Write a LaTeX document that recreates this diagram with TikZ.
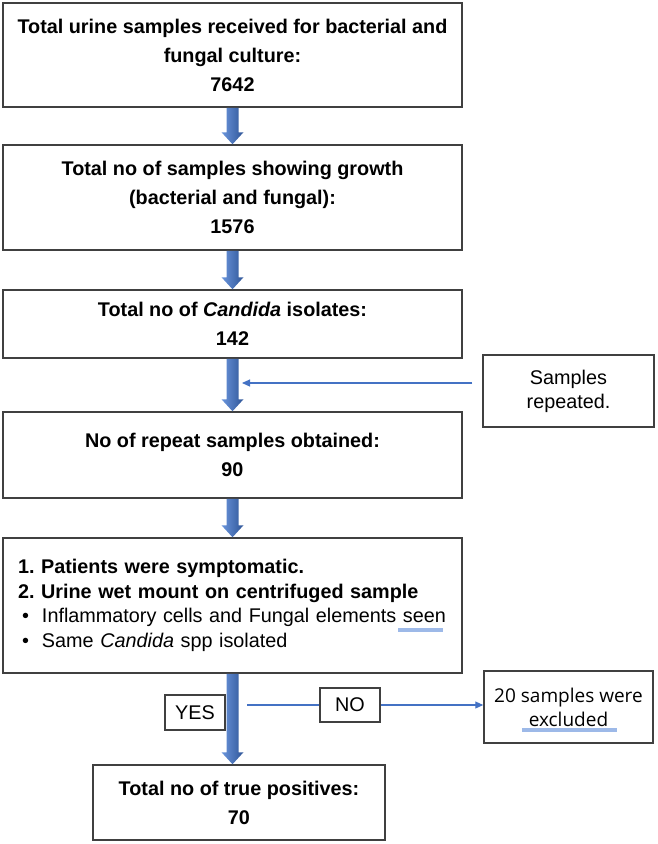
\documentclass[tikz,border=0pt]{standalone}
\usepackage{fontspec}
\setmainfont{Liberation Sans}
\newfontfamily\osans{Open Sans}
\usetikzlibrary{calc,arrows.meta}
\definecolor{edge}{HTML}{404040}
\definecolor{arrblue}{HTML}{4472C4}
\definecolor{arrdark}{HTML}{2F5597}
\definecolor{arrlight}{HTML}{6A95DC}
\definecolor{ulblue}{HTML}{9DB9E8}
\tikzset{
  box/.style={draw=edge, line width=1.5pt, fill=white, inner sep=0pt, align=center,
    font=\fontsize{19.8}{29}\selectfont\bfseries},
  plainbox/.style={draw=edge, line width=1.5pt, fill=white, inner sep=0pt, align=center,
    font=\fontsize{19.8}{24}\selectfont},
  thinline/.style={draw=arrblue, line width=1.1pt},
  thinarrow/.style={thinline, -{Triangle[length=8pt,width=7pt]}},
  uline/.style={draw=ulblue, line width=3.5pt},
}
\newcommand{\blkarrow}[2]{%
  \shade[left color=arrlight, right color=arrdark]
    ($(#1)+(-6,0)$) -- ($(#1)+(6,0)$) -- ($(#2)+(6,-12)$) -- ($(#2)+(11,-12)$)
    -- (#2) -- ($(#2)+(-11,-12)$) -- ($(#2)+(-6,-12)$) -- cycle;}
\begin{document}
\begin{tikzpicture}[x=1pt,y=-1pt]
\useasboundingbox (0,0) rectangle (658,844);
\node[box, minimum width=459pt, minimum height=104pt] (b1) at (232.5,55)
  {Total urine samples received for bacterial and\\fungal culture:\\7642};
\node[box, minimum width=459pt, minimum height=105pt] (b2) at (232.5,197.5)
  {Total no of samples showing growth\\(bacterial and fungal):\\1576};
\node[box, minimum width=459pt, minimum height=68pt] (b3) at (232.5,324)
  {Total no of \textit{Candida} isolates:\\142};
\node[box, minimum width=459pt, minimum height=86pt] (b4) at (232.5,455)
  {No of repeat samples obtained:\\90};
\node[plainbox, minimum width=459pt, minimum height=135pt, text width=429pt, align=left,
  font=\fontsize{19.8}{24.5}\selectfont\frenchspacing] (b5) at (232.5,605.5)
  {\textbf{1. Patients were symptomatic.}\\
   \textbf{2. Urine wet mount on centrifuged sample}\\
   \hspace*{4pt}\makebox[20pt][l]{•}Inflammatory cells and Fungal elements seen\\
   \hspace*{4pt}\makebox[20pt][l]{•}Same \textit{Candida} spp isolated};
\node[box, minimum width=292pt, minimum height=75pt] (b6) at (239,802.5)
  {Total no of true positives:\\70};
\node[plainbox, minimum width=171pt, minimum height=72pt] (rep) at (568.5,391)
  {Samples\\repeated.};
\node[plainbox, minimum width=169pt, minimum height=72pt, font=\osans\fontsize{19}{24}\selectfont] (exc) at (568.5,707)
  {20 samples were\\excluded};
\node[plainbox, minimum width=60pt, minimum height=35pt] (yes) at (195,712.5) {YES};
\node[plainbox, minimum width=60pt, minimum height=34pt] (no) at (350,705) {NO};
% block arrows
\blkarrow{b1.south}{b2.north}
\blkarrow{b2.south}{b3.north}
\blkarrow{b3.south}{b4.north}
\blkarrow{b4.south}{b5.north}
\blkarrow{b5.south}{b5.south |- b6.north}
% thin connectors
\coordinate (tipR) at (242,383);
\draw[thinarrow, shorten <=10pt] (rep.west |- tipR) -- (tipR);
\coordinate (ys) at (247,705);
\draw[thinline] (ys) -- (no.west);
\draw[thinarrow] (no.east) -- (exc.west |- no.east);
% underline marks
\draw[uline] (398,630) -- (443,630);
\draw[uline] (522,730) -- (617,730);
\end{tikzpicture}
\end{document}
